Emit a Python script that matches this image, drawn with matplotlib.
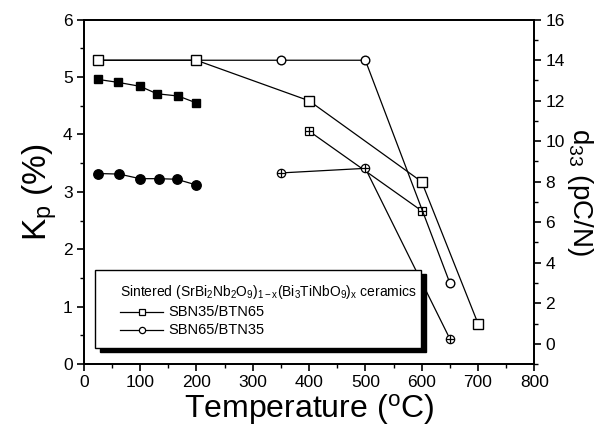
import matplotlib
matplotlib.use('Agg')
import matplotlib.pyplot as plt
from matplotlib.ticker import MultipleLocator
from matplotlib.patches import Rectangle

plt.rcParams['font.family'] = ['Liberation Sans', 'DejaVu Sans']
plt.rcParams['mathtext.fontset'] = 'custom'
plt.rcParams['mathtext.rm'] = 'Liberation Sans'
plt.rcParams['mathtext.it'] = 'Liberation Sans:italic'
plt.rcParams['mathtext.bf'] = 'Liberation Sans:bold'

# Kp (left axis), low temperature part
t_kp35 = [25, 60, 100, 130, 168, 200]
kp35 = [4.96, 4.91, 4.84, 4.71, 4.67, 4.55]
t_kp65 = [25, 63, 100, 133, 165, 200]
kp65 = [3.32, 3.31, 3.23, 3.23, 3.22, 3.12]

# Kp (left axis), high temperature part
t_kp35_hi = [400, 600]
kp35_hi = [4.06, 2.67]
t_kp65_hi = [350, 500, 650]
kp65_hi = [3.33, 3.41, 0.44]

# d33 (right axis)
t_d35 = [25, 200, 400, 600, 700]
d35 = [14, 14, 12, 8, 1]
t_d65 = [25, 200, 350, 500, 650]
d65 = [14, 14, 14, 14, 3]

legend_title = (r'Sintered (SrBi$\mathregular{_2}$Nb$\mathregular{_2}$O$\mathregular{_9}$)'
                r'$\mathregular{_{1-x}}$(Bi$\mathregular{_3}$TiNbO$\mathregular{_9}$)'
                r'$\mathregular{_x}$ ceramics')
legend_labels = ['SBN35/BTN65', 'SBN65/BTN35']

fig = plt.figure(figsize=(6.11, 4.29), dpi=100)
ax = fig.add_axes([0.137, 0.1515, 0.7375, 0.8025])
ax2 = ax.twinx()

lw = 0.9
# filled Kp series
ax.plot(t_kp35, kp35, 'k-', lw=lw, marker='s', ms=6.2, mfc='k', mec='k', zorder=3)
ax.plot(t_kp65, kp65, 'k-', lw=lw, marker='o', ms=6.8, mfc='k', mec='k', zorder=3)
# crossed Kp series
ax.plot(t_kp35_hi, kp35_hi, 'k-', lw=lw, marker='s', ms=6, mfc='white', mec='k', mew=0.9, zorder=3)
ax.plot(t_kp35_hi, kp35_hi, 'k', lw=0, marker='+', ms=6, mew=0.9, zorder=4)
ax.plot(t_kp65_hi, kp65_hi, 'k-', lw=lw, marker='o', ms=6, mfc='white', mec='k', mew=0.9, zorder=3)
ax.plot(t_kp65_hi, kp65_hi, 'k', lw=0, marker='+', ms=6, mew=0.9, zorder=4)

# open d33 series
ax2.plot(t_d65, d65, 'k-', lw=lw, marker='o', ms=6.2, mfc='white', mec='k', mew=1.0)
ax2.plot(t_d35, d35, 'k-', lw=lw, marker='s', ms=6.8, mfc='white', mec='k', mew=1.0)

ax.set_xlim(0, 800)
ax.set_ylim(0, 6)
ax2.set_ylim(-1, 16)
ax.xaxis.set_major_locator(MultipleLocator(100))
ax.xaxis.set_minor_locator(MultipleLocator(50))
ax.yaxis.set_major_locator(MultipleLocator(1))
ax.yaxis.set_minor_locator(MultipleLocator(0.5))
ax2.yaxis.set_minor_locator(MultipleLocator(1))
ax2.set_yticks(range(0, 17, 2))

for a in (ax, ax2):
    a.tick_params(which='major', direction='out', length=5, width=1.2, labelsize=12.5, pad=3)
    a.tick_params(which='minor', direction='out', length=3, width=1.0)
    for s in a.spines.values():
        s.set_linewidth(1.3)

ax.set_xlabel(r'Temperature ($\mathregular{^o}$C)', fontsize=23, labelpad=1)
ax.set_ylabel(r'K$\mathregular{_p}$ (%)', fontsize=24, labelpad=3)
ax2.set_ylabel(r'd$\mathregular{_{33}}$ (pC/N)', fontsize=20, rotation=270, labelpad=22)

# legend box drawn by hand, with its black drop shadow
bx0, by0, bw, bh = 0.025, 0.0465, 0.724, 0.2265
ax2.add_patch(Rectangle((bx0 + 0.011, by0 - 0.0116), bw, bh, transform=ax2.transAxes,
                        facecolor='black', edgecolor='black', zorder=10, clip_on=False))
ax2.add_patch(Rectangle((bx0, by0), bw, bh, transform=ax2.transAxes,
                        facecolor='white', edgecolor='black', lw=1.0, zorder=11, clip_on=False))
ax2.text(0.081, 0.209, legend_title, transform=ax2.transAxes,
         fontsize=10, va='center', ha='left', zorder=12)
for lab, mk, yy in zip(legend_labels, ['s', 'o'], [0.151, 0.0988]):
    ax2.plot([0.081, 0.176], [yy, yy], 'k-', lw=0.9, transform=ax2.transAxes, zorder=12, clip_on=False)
    ax2.plot([0.1285], [yy], 'k', lw=0, marker=mk, ms=4.5, mfc='white', mec='k', mew=0.9,
             transform=ax2.transAxes, zorder=13, clip_on=False)
    ax2.text(0.187, yy, lab, transform=ax2.transAxes,
             fontsize=10.5, va='center', ha='left', zorder=12)

fig.savefig('out.png', dpi=100)
